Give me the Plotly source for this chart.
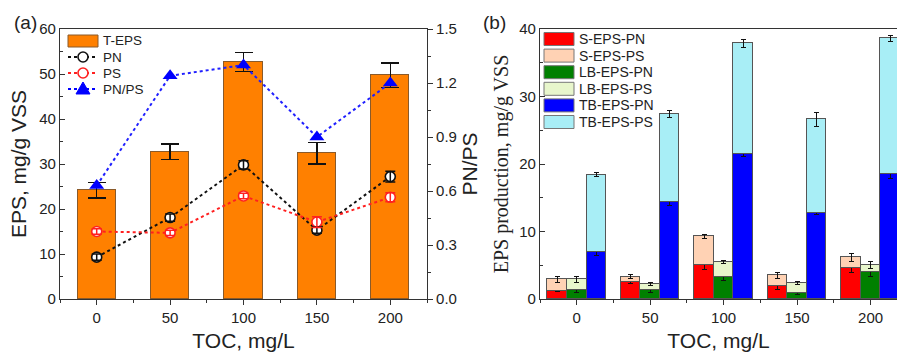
import plotly.graph_objects as go

# ---- data ----
toc = [0, 50, 100, 150, 200]
toc_labels = ["0", "50", "100", "150", "200"]

# panel (a)
t_eps = [24.2, 32.7, 52.7, 32.4, 49.7]
t_eps_err = [1.7, 1.7, 2.1, 2.4, 2.7]
pn = [9.3, 18.1, 29.8, 15.3, 27.2]
pn_err = [0.7, 0.8, 0.9, 0.7, 1.2]
ps = [15.0, 14.7, 22.9, 17.1, 22.6]
ps_err = [0.6, 0.6, 0.6, 1.2, 1.0]
pn_ps = [0.63, 1.24, 1.30, 0.90, 1.20]

# panel (b)
s_pn = [1.2, 2.5, 5.0, 1.9, 4.6]
s_pn_err = [0.1, 0.15, 0.6, 0.5, 0.7]
s_ps = [1.7, 0.8, 4.3, 1.6, 1.6]
s_ps_err = [0.4, 0.3, 0.3, 0.5, 0.6]
lb_pn = [1.3, 1.4, 3.3, 0.9, 4.0]
lb_pn_err = [0.4, 0.4, 0.6, 0.3, 0.6]
lb_ps = [1.6, 0.8, 2.2, 1.5, 1.0]
lb_ps_err = [0.5, 0.2, 0.2, 0.2, 0.5]
tb_pn = [6.9, 14.3, 21.5, 12.8, 18.5]
tb_pn_err = [0.4, 0.5, 0.4, 0.3, 0.6]
tb_ps = [11.5, 13.1, 16.4, 13.8, 20.1]
tb_ps_err = [0.3, 0.5, 0.6, 1.0, 0.5]

SANS = "Liberation Sans, Arial, sans-serif"
SERIF = "Liberation Serif, Times New Roman, serif"
AX = "#333333"
W, H = 897, 356
T_M, B_M = 29, 57
PH = H - T_M - B_M


def px(x):
    return x / W


def py(y):
    return (H - B_M - y) / PH


ORANGE, BLACK, RED, BLUE = "#FF8000", "#111111", "#FF2020", "#0000FF"

fig = go.Figure()

# ---- panel (a) ----
fig.add_trace(go.Bar(
    x=toc, y=t_eps, width=26, name="T-EPS",
    marker=dict(color=ORANGE, line=dict(color="#8a5a2a", width=1)),
    error_y=dict(type="data", array=t_eps_err, color=BLACK, thickness=1.5, width=9),
    xaxis="x", yaxis="y"))
fig.add_trace(go.Scatter(
    x=toc, y=pn, name="PN", mode="lines+markers",
    line=dict(color=BLACK, width=2, dash="dot"),
    marker=dict(symbol="circle", size=10, color="white", line=dict(color=BLACK, width=1.6)),
    xaxis="x", yaxis="y"))
fig.add_trace(go.Scatter(
    x=toc, y=ps, name="PS", mode="lines+markers",
    line=dict(color=RED, width=2, dash="dot"),
    marker=dict(symbol="circle", size=10, color="white", line=dict(color=RED, width=1.6)),
    xaxis="x", yaxis="y"))
# error bars drawn on top of the open markers
fig.add_trace(go.Scatter(
    x=toc, y=pn, name="PN err", mode="markers", marker=dict(opacity=0),
    error_y=dict(type="data", array=pn_err, color=BLACK, thickness=1.5, width=5),
    xaxis="x", yaxis="y", hoverinfo="skip"))
fig.add_trace(go.Scatter(
    x=toc, y=ps, name="PS err", mode="markers", marker=dict(opacity=0),
    error_y=dict(type="data", array=ps_err, color=RED, thickness=1.5, width=5),
    xaxis="x", yaxis="y", hoverinfo="skip"))
fig.add_trace(go.Scatter(
    x=toc, y=pn_ps, name="PN/PS", mode="lines+markers",
    line=dict(color="#2020FF", width=2, dash="dot"),
    marker=dict(symbol="triangle-up", size=13, color=BLUE),
    xaxis="x", yaxis="y3"))

# ---- panel (b) ----
off = 13.3
edge = dict(color="#555555", width=1)
series_b = [
    ("S-EPS-PN", s_pn, s_pn_err, "#FF0000", -off),
    ("S-EPS-PS", s_ps, s_ps_err, "#FFD2B4", -off),
    ("LB-EPS-PN", lb_pn, lb_pn_err, "#008000", 0),
    ("LB-EPS-PS", lb_ps, lb_ps_err, "#E8F6CC", 0),
    ("TB-EPS-PN", tb_pn, tb_pn_err, "#0000FF", off),
    ("TB-EPS-PS", tb_ps, tb_ps_err, "#A8EEF6", off),
]
for name, vals, errs, col, dx in series_b:
    fig.add_trace(go.Bar(
        x=[t + dx for t in toc], y=vals, width=off, name=name,
        marker=dict(color=col, line=edge),
        error_y=dict(type="data", array=errs, color=BLACK, thickness=1, width=2.5),
        xaxis="x2", yaxis="y2"))

# ---- hand-built legends (compact row spacing like the original) ----
shapes = []
annotations = []

legend_a = [("T-EPS", "bar", ORANGE, None), ("PN", "line", BLACK, "circle"),
            ("PS", "line", RED, "circle"), ("PN/PS", "line", BLUE, "triangle")]
gx0, gx1, row0, step = 68, 98, 41, 16
for i, (name, kind, col, sym) in enumerate(legend_a):
    yc = row0 + step * i
    if kind == "bar":
        shapes.append(dict(type="rect", xref="paper", yref="paper",
                           x0=px(gx0), x1=px(gx1), y0=py(yc + 6), y1=py(yc - 6),
                           fillcolor=col, line=dict(color="#8a5a2a", width=1)))
    else:
        shapes.append(dict(type="line", xref="paper", yref="paper",
                           x0=px(gx0), x1=px(gx1), y0=py(yc), y1=py(yc),
                           line=dict(color=col, width=2, dash="dot")))
        cx = (gx0 + gx1) / 2
        if sym == "circle":
            shapes.append(dict(type="circle", xref="paper", yref="paper",
                               x0=px(cx - 5), x1=px(cx + 5), y0=py(yc + 5), y1=py(yc - 5),
                               fillcolor="white", line=dict(color=col, width=1.6)))
        else:
            path = "M {:.5f},{:.5f} L {:.5f},{:.5f} L {:.5f},{:.5f} Z".format(
                px(cx - 7), py(yc + 5), px(cx + 7), py(yc + 5), px(cx), py(yc - 7))
            shapes.append(dict(type="path", xref="paper", yref="paper", path=path,
                               fillcolor=col, line=dict(color=col, width=1)))
    annotations.append(dict(text=name, x=px(gx1 + 3), y=py(yc), xref="paper", yref="paper",
                            xanchor="left", yanchor="middle", showarrow=False,
                            font=dict(size=13.5, family=SANS, color="#222")))

bx0, bx1, brow0, bstep = 544, 574, 39, 16.6
for i, (name, vals, errs, col, dx) in enumerate(series_b):
    yc = brow0 + bstep * i
    shapes.append(dict(type="rect", xref="paper", yref="paper",
                       x0=px(bx0), x1=px(bx1), y0=py(yc + 6.5), y1=py(yc - 6.5),
                       fillcolor=col, line=dict(color="#777777", width=1)))
    annotations.append(dict(text=name, x=px(bx1 + 3), y=py(yc), xref="paper", yref="paper",
                            xanchor="left", yanchor="middle", showarrow=False,
                            font=dict(size=14, family=SANS, color="#222")))

annotations += [
    dict(text="(a)", x=px(12), y=py(22), xref="paper", yref="paper",
         xanchor="left", yanchor="middle", showarrow=False, font=dict(size=19)),
    dict(text="(b)", x=px(481), y=py(22), xref="paper", yref="paper",
         xanchor="left", yanchor="middle", showarrow=False, font=dict(size=19)),
]

common_x = dict(showline=True, linecolor=AX, linewidth=1.2, mirror=True,
                ticks="outside", ticklen=5, tickcolor=AX, tickwidth=1,
                minor=dict(ticks="outside", ticklen=3, dtick=25, tick0=0, tickcolor=AX),
                tickvals=toc, ticktext=toc_labels,
                tickfont=dict(size=15, family=SANS, color="#222"),
                showgrid=False, zeroline=False)

fig.update_layout(
    width=W, height=H,
    margin=dict(l=0, r=0, t=T_M, b=B_M),
    paper_bgcolor="white", plot_bgcolor="white",
    font=dict(family=SANS, color="#222"),
    barmode="stack",
    bargap=0,
    showlegend=False,
    xaxis=dict(domain=[60 / W, 427 / W], range=[-25, 225], anchor="y",
               title=dict(text="TOC, mg/L", font=dict(size=21), standoff=8), **common_x),
    yaxis=dict(domain=[0, 1], range=[0, 60], dtick=10, anchor="x",
               showline=True, linecolor=AX, linewidth=1.2,
               ticks="inside", ticklen=5, tickcolor=AX,
               minor=dict(ticks="inside", ticklen=3, dtick=5, tickcolor=AX),
               tickfont=dict(size=15), showgrid=False, zeroline=False,
               title=dict(text="EPS, mg/g VSS", font=dict(size=21), standoff=6)),
    yaxis3=dict(overlaying="y", side="right", anchor="x", range=[0, 1.5], dtick=0.3,
                tickformat=".1f", showline=True, linecolor=AX, linewidth=1.2,
                ticks="outside", ticklen=5, tickcolor=AX,
                minor=dict(ticks="outside", ticklen=3, dtick=0.15, tickcolor=AX),
                tickfont=dict(size=15), showgrid=False, zeroline=False,
                title=dict(text="PN/PS", font=dict(size=21), standoff=6)),
    xaxis2=dict(domain=[540 / W, 1], range=[-25, 218], anchor="y2",
                title=dict(text="TOC, mg/L", font=dict(size=21), standoff=8), **common_x),
    yaxis2=dict(domain=[0, 1], range=[0, 40], dtick=10, anchor="x2",
                showline=True, linecolor=AX, linewidth=1.2,
                ticks="inside", ticklen=5, tickcolor=AX,
                minor=dict(ticks="inside", ticklen=3, dtick=5, tickcolor=AX),
                tickfont=dict(size=15), showgrid=False, zeroline=False,
                title=dict(text="EPS production, mg/g VSS",
                           font=dict(size=20, family=SERIF), standoff=5)),
    shapes=shapes,
    annotations=annotations,
)

fig.write_html("out.html")
